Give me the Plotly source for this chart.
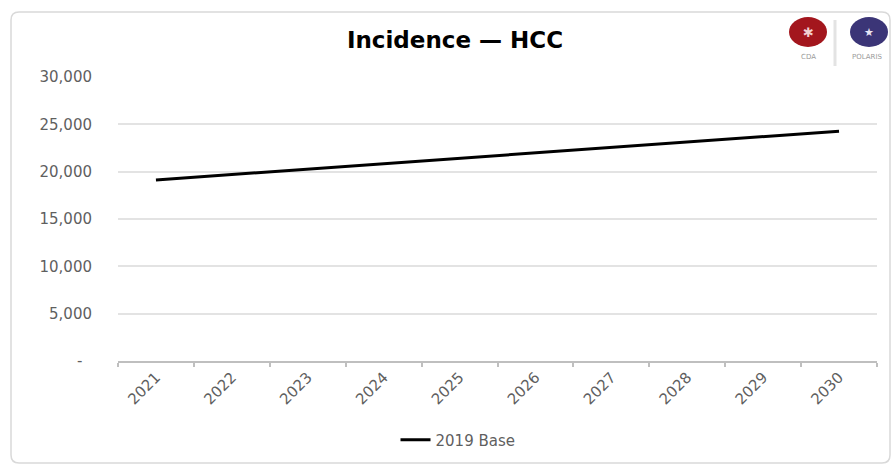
import plotly.graph_objects as go

# Annual projected HCC incidence, 2019 base scenario
years = ["2021", "2022", "2023", "2024", "2025", "2026", "2027", "2028", "2029", "2030"]
incidence_2019_base = [19130, 19700, 20300, 20850, 21410, 21980, 22560, 23150, 23700, 24280]

y_tick_values = [0, 5000, 10000, 15000, 20000, 25000, 30000]
y_tick_labels = ["-\u00a0\u00a0", "5,000", "10,000", "15,000", "20,000", "25,000", "30,000"]

W, H = 893, 465
# plot area in pixels
PL, PR, PT, PB = 118, 877, 77, 361


def px(x):
    return (x - PL) / (PR - PL)


def py(y):
    return (PB - y) / (PB - PT)


def rounded_rect(x0, y0, x1, y1, r):
    return (
        f"M {px(x0 + r)},{py(y0)} L {px(x1 - r)},{py(y0)} "
        f"Q {px(x1)},{py(y0)} {px(x1)},{py(y0 + r)} "
        f"L {px(x1)},{py(y1 - r)} Q {px(x1)},{py(y1)} {px(x1 - r)},{py(y1)} "
        f"L {px(x0 + r)},{py(y1)} Q {px(x0)},{py(y1)} {px(x0)},{py(y1 - r)} "
        f"L {px(x0)},{py(y0 + r)} Q {px(x0)},{py(y0)} {px(x0 + r)},{py(y0)} Z"
    )


FONT = "DejaVu Sans, Arial, sans-serif"
GREY = "#5f5f5f"

fig = go.Figure()
fig.add_trace(
    go.Scatter(
        x=years,
        y=incidence_2019_base,
        mode="lines",
        name="2019 Base",
        line=dict(color="#000000", width=3),
    )
)

shapes = [
    # chart frame
    dict(type="path", xref="paper", yref="paper", path=rounded_rect(11, 12, 890, 463, 8),
         line=dict(color="#d9d9d9", width=1.5), layer="below"),
    # logo separator
    dict(type="line", xref="paper", yref="paper", x0=px(835), x1=px(835), y0=py(20), y1=py(66),
         line=dict(color="#e3e3e3", width=3)),
    # CDA logo
    dict(type="circle", xref="paper", yref="paper", x0=px(789), x1=px(827), y0=py(17), y1=py(47),
         fillcolor="#a3161d", line=dict(width=0)),
    # Polaris logo
    dict(type="circle", xref="paper", yref="paper", x0=px(850), x1=px(888), y0=py(17), y1=py(47),
         fillcolor="#3b3577", line=dict(width=0)),
]

annotations = [
    dict(text="✱", xref="paper", yref="paper", x=px(808), y=py(32), showarrow=False,
         font=dict(family=FONT, size=13, color="#f2d0d0"), xanchor="center", yanchor="middle"),
    dict(text="★", xref="paper", yref="paper", x=px(869), y=py(32), showarrow=False,
         font=dict(family=FONT, size=11, color="#e8e6f5"), xanchor="center", yanchor="middle"),
    dict(text="CDA", xref="paper", yref="paper", x=px(808), y=py(57), showarrow=False,
         font=dict(family=FONT, size=7, color="#9a9a9a"), xanchor="center", yanchor="middle"),
    dict(text="POLARIS", xref="paper", yref="paper", x=px(867), y=py(57), showarrow=False,
         font=dict(family=FONT, size=7, color="#9a9a9a"), xanchor="center", yanchor="middle"),
]

fig.update_layout(
    width=W,
    height=H,
    margin=dict(l=PL, r=W - PR, t=PT, b=H - PB, pad=0),
    paper_bgcolor="#ffffff",
    plot_bgcolor="#ffffff",
    title=dict(
        text="<b>Incidence — HCC</b>",
        x=455 / W, xanchor="center", xref="container",
        y=1 - 40 / H, yanchor="middle", yref="container",
        font=dict(family=FONT, size=23, color="#000000"),
    ),
    xaxis=dict(
        type="category",
        range=[-0.5, 9.5],
        showgrid=False,
        showline=True,
        linecolor="#bfbfbf",
        linewidth=1.5,
        ticks="outside",
        tickson="boundaries",
        ticklen=4,
        tickcolor="#bfbfbf",
        tickwidth=1.5,
        tickangle=-45,
        tickfont=dict(family=FONT, size=15, color=GREY),
        zeroline=False,
    ),
    yaxis=dict(
        range=[0, 30000],
        tickvals=y_tick_values,
        ticktext=y_tick_labels,
        showgrid=True,
        gridcolor="#e3e3e3",
        gridwidth=2,
        zeroline=False,
        showline=False,
        ticks="",
        ticklabelstandoff=25,
        tickfont=dict(family=FONT, size=15, color=GREY),
    ),
    showlegend=True,
    legend=dict(
        orientation="h",
        xref="container", yref="container",
        x=458 / W, xanchor="center",
        y=1 - 440 / H, yanchor="middle",
        font=dict(family=FONT, size=15, color=GREY),
        bgcolor="rgba(0,0,0,0)",
    ),
    shapes=shapes,
    annotations=annotations,
)

fig.write_html("out.html")
